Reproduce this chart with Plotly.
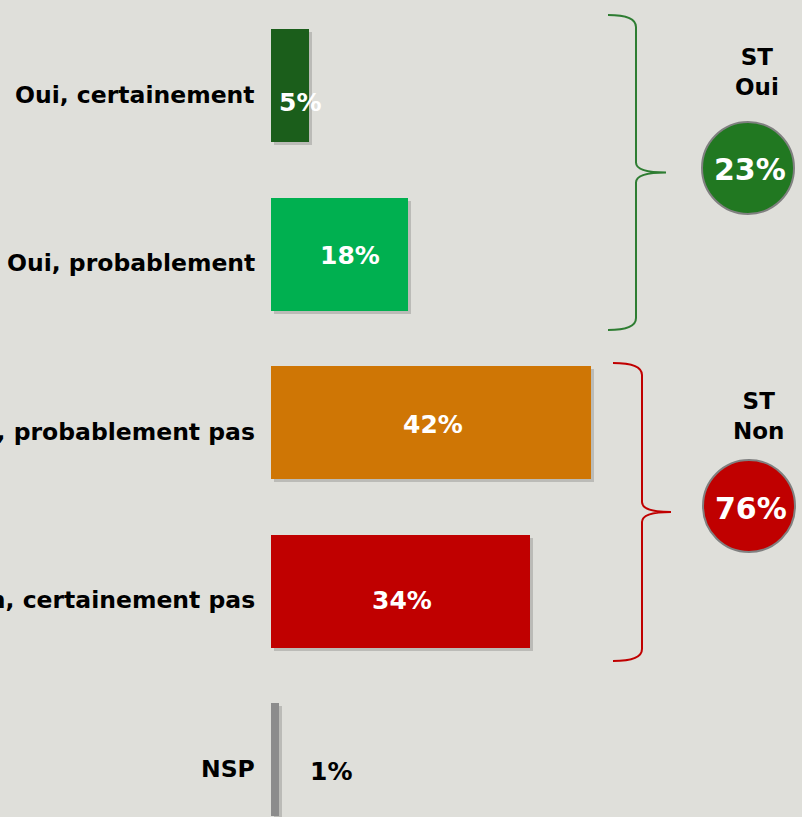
import plotly.graph_objects as go

# ---- data ----
categories = ["Oui, certainement", "Oui, probablement", "Non, probablement pas",
              "Non, certainement pas", "NSP"]
values = [5, 18, 42, 34, 1]
value_labels = ["5%", "18%", "42%", "34%", "1%"]
group_names = ["ST<br>Oui", "ST<br>Non"]
group_members = [[0, 1], [2, 3]]

# ---- style ----
bar_colors = ["#1b5e1b", "#00b050", "#cf7605", "#c00000", "#8c8c8c"]
label_colors = ["white", "white", "white", "white", "black"]
label_xshift = [10, 10, 2, 1, 56]
label_yshift = [-17, -1, -2, -9, -12]
group_colors = ["#217821", "#c00000"]
bracket_colors = ["#2e7d32", "#c00000"]
BG = "#dfdfda"
FONT = "DejaVu Sans"

W, H = 802, 817
ML = 271
PX_PER_PCT = 7.62
CAT_PITCH = 168.5
FIRST_CENTER = 85.5
BAR_WIDTH = 113 / CAT_PITCH

x_max = (W - ML) / PX_PER_PCT
y_top = -FIRST_CENTER / CAT_PITCH
y_bot = (H - FIRST_CENTER) / CAT_PITCH


def px_x(p):
    return (p - ML) / (W - ML)


def px_y(p):
    return 1 - p / H


fig = go.Figure()

# shadow
fig.add_trace(go.Bar(
    x=values, y=categories, orientation="h", base=0.4,
    width=BAR_WIDTH, offset=-BAR_WIDTH / 2 + 3 / CAT_PITCH,
    marker=dict(color="rgba(0,0,0,0.16)", line=dict(width=0)),
    hoverinfo="skip", showlegend=False,
))
fig.add_trace(go.Bar(
    x=values, y=categories, orientation="h",
    width=BAR_WIDTH,
    marker=dict(color=bar_colors, line=dict(width=0)),
    showlegend=False,
))

annotations = []
for i, cat in enumerate(categories):
    annotations.append(dict(
        x=0, xref="paper", y=cat, yref="y", text=cat, showarrow=False,
        xanchor="right", yanchor="middle", xshift=-14, yshift=-9,
        font=dict(family=FONT, size=23.5, color="black", weight="bold"),
    ))
    annotations.append(dict(
        x=values[i] / 2, xref="x", y=cat, yref="y", text=value_labels[i],
        showarrow=False, xanchor="center", yanchor="middle",
        xshift=label_xshift[i], yshift=label_yshift[i],
        font=dict(family=FONT, size=25, color=label_colors[i], weight="bold"),
    ))

shapes = []
bracket_geo = [
    dict(x_end=608, x_line=636, x_tip=666, top=15, bot=330),
    dict(x_end=613, x_line=642, x_tip=671, top=363, bot=661),
]
circle_geo = [
    dict(cx=748, cy=168, r=46, title_y=72),
    dict(cx=749, cy=506, r=46, title_y=416),
]
for g, members in enumerate(group_members):
    b = bracket_geo[g]
    mid = (b["top"] + b["bot"]) / 2
    pts = [
        ("M", [(b["x_end"], b["top"])]),
        ("Q", [(b["x_line"], b["top"]), (b["x_line"], b["top"] + 12)]),
        ("L", [(b["x_line"], mid - 10)]),
        ("Q", [(b["x_line"], mid), (b["x_tip"], mid)]),
        ("Q", [(b["x_line"], mid), (b["x_line"], mid + 10)]),
        ("L", [(b["x_line"], b["bot"] - 12)]),
        ("Q", [(b["x_line"], b["bot"]), (b["x_end"], b["bot"])]),
    ]
    path = " ".join(
        cmd + " " + " ".join(f"{px_x(x):.5f},{px_y(y):.5f}" for x, y in p)
        for cmd, p in pts
    )
    shapes.append(dict(type="path", xref="paper", yref="paper", path=path,
                       line=dict(color=bracket_colors[g], width=2)))
    c = circle_geo[g]
    shapes.append(dict(type="circle", xref="paper", yref="paper",
                       x0=px_x(c["cx"] - c["r"]), x1=px_x(c["cx"] + c["r"]),
                       y0=px_y(c["cy"] + c["r"]), y1=px_y(c["cy"] - c["r"]),
                       fillcolor=group_colors[g],
                       line=dict(color="#808080", width=2), layer="above"))
    total = sum(values[m] for m in members)
    annotations.append(dict(
        x=px_x(c["cx"] + 9), y=px_y(c["title_y"]), xref="paper", yref="paper",
        text=group_names[g], showarrow=False, xanchor="center", yanchor="middle",
        font=dict(family=FONT, size=23, color="black", weight="bold"),
    ))
    annotations.append(dict(
        x=px_x(c["cx"] + 2), y=px_y(c["cy"] + 2), xref="paper", yref="paper",
        text=f"{total}%", showarrow=False, xanchor="center", yanchor="middle",
        font=dict(family=FONT, size=30, color="white", weight="bold"),
    ))

fig.update_layout(
    width=W, height=H,
    margin=dict(l=ML, r=0, t=0, b=0, pad=0),
    paper_bgcolor=BG, plot_bgcolor=BG,
    barmode="overlay",
    bargap=0,
    xaxis=dict(range=[0, x_max], visible=False, fixedrange=True),
    yaxis=dict(range=[y_bot, y_top], showticklabels=False, showgrid=False,
               zeroline=False, showline=False, ticks="", fixedrange=True,
               type="category"),
    annotations=annotations,
    shapes=shapes,
    showlegend=False,
)

fig.write_html(
    "out.html",
    config={"displayModeBar": False},
    post_script=(
        "document.body.style.margin='0';"
        "document.body.style.padding='0';"
        "document.body.style.overflow='hidden';"
        f"document.body.style.background='{BG}';"
    ),
)
